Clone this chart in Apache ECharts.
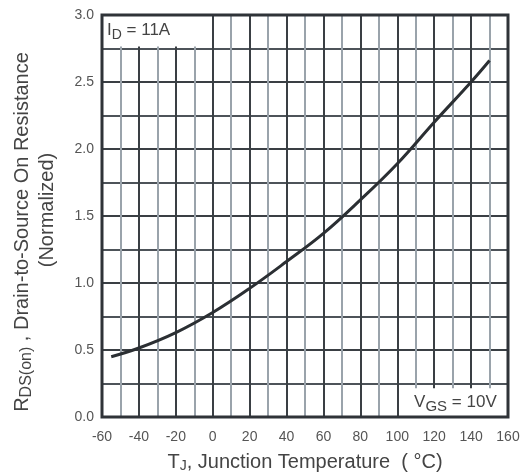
<!DOCTYPE html>
<html><head><meta charset="utf-8">
<script src="https://cdn.jsdelivr.net/npm/echarts@6/dist/echarts.min.js"></script>
<style>html,body{margin:0;padding:0;background:#fff}#c{width:528px;height:476px}</style>
</head><body><div id="c"></div>
<script>
var temps = [-55, -40, -20, 0, 20, 40, 60, 80, 100, 120, 140, 150];
var rdsNorm = [0.45, 0.515, 0.63, 0.78, 0.96, 1.16, 1.37, 1.62, 1.89, 2.20, 2.50, 2.66];
var xTicks = [-60, -40, -20, 0, 20, 40, 60, 80, 100, 120, 140, 160];
var yTicks = [0.0, 0.5, 1.0, 1.5, 2.0, 2.5, 3.0];

var FONT = '"Liberation Sans", Arial, sans-serif';
var chart = echarts.init(document.getElementById('c'), null, {renderer: 'canvas'});
var pts = temps.map(function (t, i) { return [t, rdsNorm[i]]; });

chart.setOption({
  animation: false,
  backgroundColor: '#fff',
  grid: {left: 102, right: 20, top: 15, bottom: 59},
  xAxis: {
    type: 'value', min: xTicks[0], max: xTicks[xTicks.length - 1], interval: 20,
    axisLine: {show: false}, axisTick: {show: false},
    axisLabel: {color: '#555', fontSize: 14, fontFamily: FONT, margin: 13},
    splitLine: {show: true, lineStyle: {color: '#3a3f44', width: 2}},
    minorTick: {show: false, splitNumber: 2},
    minorSplitLine: {show: true, lineStyle: {color: '#9aa3ab', width: 2}}
  },
  yAxis: {
    type: 'value', min: yTicks[0], max: yTicks[yTicks.length - 1], interval: 0.5,
    axisLine: {show: false}, axisTick: {show: false},
    axisLabel: {color: '#555', fontSize: 14, fontFamily: FONT, margin: 8,
      formatter: function (v) { return v.toFixed(1); }},
    splitLine: {show: true, lineStyle: {color: '#3a3f44', width: 2}},
    minorTick: {show: false, splitNumber: 2},
    minorSplitLine: {show: true, lineStyle: {color: '#4d5359', width: 2}}
  },
  series: [{
    type: 'line', data: pts, smooth: 0.4, symbol: 'none',
    lineStyle: {color: '#2b2f33', width: 3},
    markArea: {
      silent: true,
      itemStyle: {color: '#fff'},
      data: [
        [{xAxis: -60, yAxis: 2.765, name: 'id',
          label: {show: true, position: 'insideLeft', distance: 5,
            formatter: '{a|I}{s|D}{a| = 11A}',
            rich: {a: {fontSize: 17, color: '#444', fontFamily: FONT},
                   s: {fontSize: 14, color: '#444', fontFamily: FONT, padding: [8, 0, 0, 0]}}}},
         {xAxis: -1, yAxis: 3.0}],
        [{xAxis: 103, yAxis: 0.0, name: 'vgs',
          label: {show: true, position: 'inside',
            formatter: '{a|V}{s|GS}{a| = 10V}',
            rich: {a: {fontSize: 17, color: '#444', fontFamily: FONT},
                   s: {fontSize: 15, color: '#444', fontFamily: FONT, padding: [8, 0, 0, 0]}}}},
         {xAxis: 160, yAxis: 0.215}]
      ]
    }
  }]
});

var p0 = chart.convertToPixel({gridIndex: 0}, [xTicks[0], yTicks[yTicks.length - 1]]);
var p1 = chart.convertToPixel({gridIndex: 0}, [xTicks[xTicks.length - 1], yTicks[0]]);
var cx = (p0[0] + p1[0]) / 2, cy = (p0[1] + p1[1]) / 2;
chart.setOption({
  graphic: [
    {type: 'rect', z: 100, silent: true,
     shape: {x: p0[0], y: p0[1], width: p1[0] - p0[0], height: p1[1] - p0[1]},
     style: {fill: 'none', stroke: '#2f3338', lineWidth: 3}},
    {type: 'text', z: 100, x: cx, y: 462,
     style: {text: '{a|T}{s|J}{a|, Junction Temperature  ( °C)}', align: 'center', verticalAlign: 'middle',
       rich: {a: {fontSize: 20, fill: '#444', fontFamily: FONT},
              s: {fontSize: 14, fill: '#444', fontFamily: FONT, padding: [9, 0, 0, 0]}}}},
    {type: 'text', z: 100, x: 22, y: 232, rotation: Math.PI / 2,
     style: {text: '{a|R}{s|DS(on)}{a| , Drain-to-Source On Resistance}', align: 'center', verticalAlign: 'middle',
       rich: {a: {fontSize: 20, fill: '#444', fontFamily: FONT},
              s: {fontSize: 16, fill: '#444', fontFamily: FONT, padding: [9, 0, 0, 0]}}}},
    {type: 'text', z: 100, x: 47, y: 210, rotation: Math.PI / 2,
     style: {text: '(Normalized)', align: 'center', verticalAlign: 'middle',
       fontSize: 20, fill: '#444', fontFamily: FONT}}
  ]
});
</script></body></html>
